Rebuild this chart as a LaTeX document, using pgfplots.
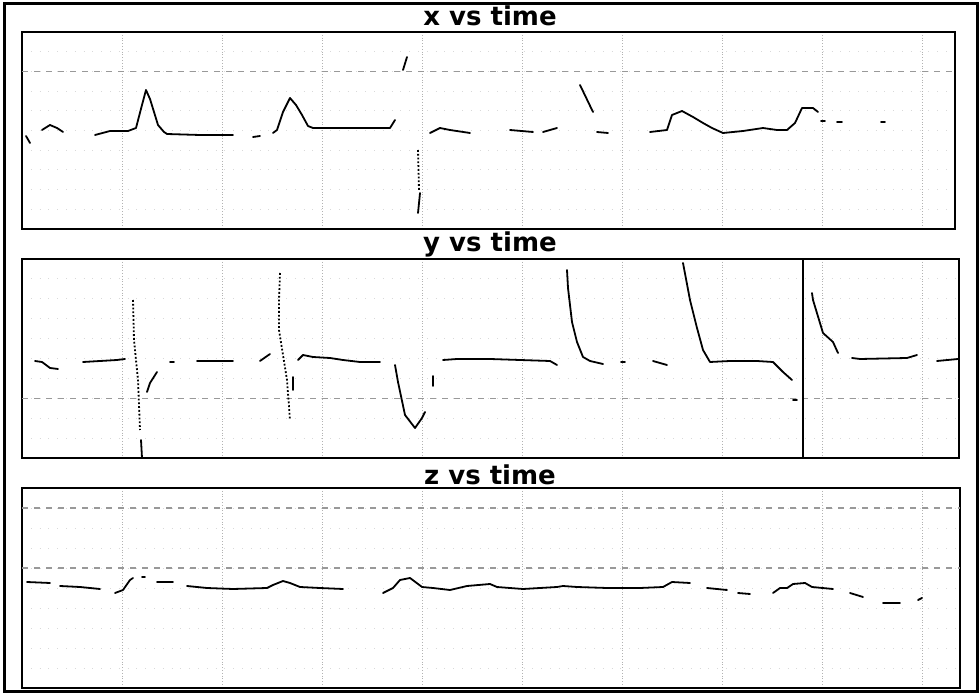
\documentclass[border=0pt]{standalone}
\usepackage{pgfplots}
\pgfplotsset{compat=1.18}
\usepackage{fontspec}
\newfontfamily\titlefont{DejaVu Sans}
\begin{document}
\begin{tikzpicture}[x=1pt,y=1pt]
\useasboundingbox (0,0) rectangle (490,348);
\draw[line width=1.5pt] (2,2) rectangle (488.5,346);
\pgfplotsset{panel/.style={scale only axis, y dir=reverse,
  axis line style={line width=1.2pt},
  xtick={122,222,...,922}, xticklabels={}, yticklabels={},
  major tick length=0pt,
  xmajorgrids=true, ymajorgrids=true,
  x grid style={densely dotted, gray!60, line width=0.5pt},
  y grid style={loosely dotted, gray!30, line width=0.4pt},
  extra y tick labels={}, extra y tick style={y grid style={dashed, gray!80, line width=0.6pt}},
  unbounded coords=jump},
  trace/.style={black, line width=0.9pt, line join=round, line cap=round},
  dtrace/.style={black, line width=0.9pt, densely dotted}}
% ---------------- x vs time
\begin{axis}[panel, at={(11pt,233.5pt)}, anchor=south west, width=466.5pt, height=98.5pt,
  xmin=22, xmax=955, ymin=32, ymax=229,
  ytick={51.7,71.4,91.1,110.8,130.5,150.2,169.9,189.6,209.3}, extra y ticks={71.4}]
\addplot[trace] coordinates {
(26,136) (30,143) (nan,nan)
(42,130) (50,125) (57,128) (63,132) (nan,nan)
(95,135) (110,131) (128,131) (136,128) (142,105) (146,90) (150,99) (154,112) (158,125) (164,132) (167,134) (200,135) (233,135) (nan,nan)
(253,137) (260,136) (nan,nan)
(273,133) (277,130) (283,112) (290,98) (296,105) (302,115) (308,126) (313,128) (350,128) (390,128) (395,120) (nan,nan)
(403,70) (407,57) (nan,nan)
(420,193) (418,213) (nan,nan)
(430,133) (440,128) (450,130) (470,133) (nan,nan)
(510,130) (533,132) (nan,nan)
(543,132) (557,128) (nan,nan)
(580,85) (593,112) (nan,nan)
(597,132) (608,133) (nan,nan)
(650,132) (667,130) (672,115) (682,111) (693,117) (703,123) (712,128) (723,133) (743,131) (763,128) (777,130) (787,130) (795,123) (802,108) (813,108) (818,112) (nan,nan)
(821,121) (825,121) (nan,nan)
(837,122) (842,122) (nan,nan)
(881,122) (885,122)
};
\addplot[dtrace] coordinates {(418,150) (419,190)};
\end{axis}
% ---------------- y vs time
\begin{axis}[panel, at={(11pt,119pt)}, anchor=south west, width=468.5pt, height=99.5pt,
  xmin=22, xmax=959, ymin=259, ymax=458,
  ytick={278.9,298.8,318.7,338.6,358.5,378.4,398.3,418.2,438.1}, extra y ticks={398.3}]
\addplot[trace] coordinates {
(35,361) (42,362) (50,368) (58,369) (nan,nan)
(83,362) (100,361) (117,360) (125,359) (nan,nan)
(141,440) (142,458) (nan,nan)
(147,392) (150,383) (157,372) (nan,nan)
(170,362) (174,362) (nan,nan)
(197,361) (233,361) (nan,nan)
(260,361) (270,354) (nan,nan)
(293,377) (293,390) (nan,nan)
(298,360) (303,355) (313,357) (330,358) (343,360) (360,362) (380,362) (nan,nan)
(395,365) (398,382) (405,415) (415,428) (422,418) (425,412) (nan,nan)
(433,376) (433,386) (nan,nan)
(443,360) (457,359) (490,359) (550,361) (557,365) (nan,nan)
(567,270) (568,288) (572,322) (577,342) (583,357) (590,361) (603,364) (nan,nan)
(621,362) (625,362) (nan,nan)
(653,361) (667,365) (nan,nan)
(683,263) (690,300) (697,328) (703,350) (710,362) (730,361) (757,361) (773,362) (783,372) (792,380) (nan,nan)
(793,400) (797,400) (nan,nan)
(803,259) (803,458) (nan,nan)
(812,293) (813,300) (823,333) (833,342) (838,353) (nan,nan)
(852,358) (860,359) (907,358) (917,355) (nan,nan)
(937,361) (958,359)
};
\addplot[dtrace] coordinates {(133,300) (134,340) (138,380) (140,430)};
\addplot[dtrace] coordinates {(280,273) (279,300) (279,330) (287,380) (290,420)};
\end{axis}
% ---------------- z vs time
\begin{axis}[panel, at={(11pt,4pt)}, anchor=south west, width=469pt, height=100pt,
  xmin=22, xmax=960, ymin=488, ymax=688,
  ytick={508,528,548,568,588,608,628,648,668}, extra y ticks={508,568}]
\addplot[trace] coordinates {
(27,582) (50,583) (nan,nan)
(60,586) (80,587) (100,589) (nan,nan)
(115,593) (123,590) (130,580) (133,578) (nan,nan)
(142,577) (145,577) (nan,nan)
(157,582) (173,582) (nan,nan)
(187,586) (207,588) (233,589) (267,588) (273,585) (283,581) (290,583) (300,587) (320,588) (343,589) (nan,nan)
(383,593) (393,588) (400,580) (410,578) (422,587) (433,588) (450,590) (467,586) (490,584) (497,587) (523,589) (557,587) (563,586) (577,587) (607,588) (640,588) (663,587) (672,582) (690,583) (nan,nan)
(707,588) (727,590) (nan,nan)
(738,593) (750,594) (nan,nan)
(773,593) (780,588) (787,588) (793,584) (805,583) (812,587) (833,589) (nan,nan)
(850,593) (863,597) (nan,nan)
(883,603) (900,603) (nan,nan)
(918,600) (922,598)
};
\end{axis}
\node[font=\titlefont\bfseries\fontsize{13}{15}\selectfont] at (245,340) {x vs time};
\node[font=\titlefont\bfseries\fontsize{13}{15}\selectfont] at (245,226) {y vs time};
\node[font=\titlefont\bfseries\fontsize{13}{15}\selectfont] at (245,110.5) {z vs time};
\end{tikzpicture}
\end{document}
